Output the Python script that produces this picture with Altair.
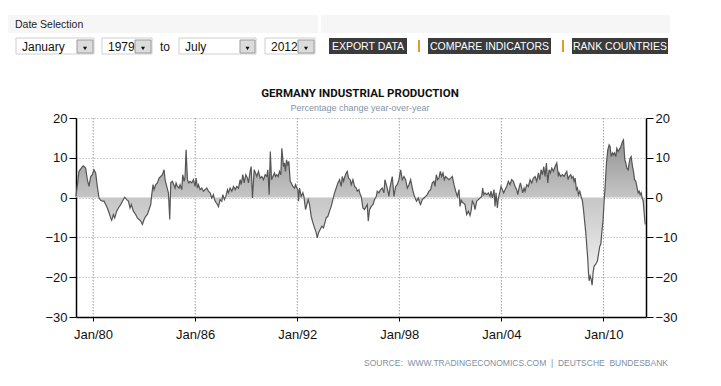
import altair as alt
import pandas as pd

# ---- data: (decimal year, % change y/y) ----
seg_1979_1984 = [
    (1979.0, 0.3), (1979.176, 6.6), (1979.372, 7.8), (1979.431, 8.0), (1979.568, 7.4),
    (1979.666, 4.5), (1979.764, 2.8), (1979.862, 5.3), (1979.960, 5.75), (1980.058, 7.0),
    (1980.156, 6.2), (1980.254, 2.8), (1980.352, -0.1), (1980.450, -0.7), (1980.549, -0.9),
    (1980.647, -0.9), (1980.745, -1.75), (1980.843, -2.6), (1980.941, -3.8), (1981.039, -5.1),
    (1981.098, -5.7), (1981.196, -4.25), (1981.274, -5.1), (1981.392, -3.4), (1981.490, -2.6),
    (1981.627, -1.75), (1981.784, -0.5), (1981.862, 0.1), (1981.980, -0.5), (1982.078, -0.9),
    (1982.176, -2.6), (1982.255, -1.75), (1982.372, -3.4), (1982.509, -4.25), (1982.607, -5.1),
    (1982.706, -5.5), (1982.804, -5.9), (1982.902, -6.75), (1983.000, -5.5), (1983.098, -4.7),
    (1983.196, -4.25), (1983.294, -3.0), (1983.392, -1.75), (1983.451, 0.75), (1983.529, 3.25),
    (1983.588, 2.0), (1983.686, 3.25), (1983.784, 3.7), (1983.882, 4.9), (1983.980, 5.3),
    (1984.078, 5.75), (1984.176, 7.0), (1984.235, 4.5), (1984.333, 2.8), (1984.431, 1.2),
    (1984.510, -5.5), (1984.569, 3.7), (1984.666, 4.1),
]
seg_1984_1990 = [
    (1984.823, 2.4), (1984.882, 3.7), (1984.960, 2.8), (1985.058, 2.4), (1985.117, 3.25),
    (1985.215, 2.0), (1985.274, 5.75), (1985.353, 4.1), (1985.411, 5.3), (1985.470, 12.0),
    (1985.549, 4.5), (1985.627, 3.7), (1985.706, 4.1), (1985.804, 3.7), (1985.902, 4.5),
    (1986.000, 2.8), (1986.058, 4.9), (1986.137, 2.4), (1986.196, 3.25), (1986.294, 2.0),
    (1986.392, 2.4), (1986.490, 1.6), (1986.588, 2.0), (1986.686, 2.4), (1986.784, 1.6),
    (1986.882, 1.2), (1986.980, -0.1), (1987.078, 0.75), (1987.137, -0.5), (1987.235, -1.3),
    (1987.314, -1.75), (1987.372, -2.3), (1987.470, -0.5), (1987.568, -0.9), (1987.627, 0.75),
    (1987.725, -0.5), (1987.804, 0.3), (1987.902, 2.0), (1987.960, 1.2), (1988.058, 2.4),
    (1988.157, 1.6), (1988.255, 2.8), (1988.353, 2.0), (1988.451, 2.8), (1988.549, 2.4),
    (1988.647, 4.5), (1988.706, 3.25), (1988.804, 5.75), (1988.882, 3.7), (1988.980, 5.75),
    (1989.078, 4.9), (1989.137, 3.7), (1989.235, 6.6), (1989.294, 7.8), (1989.372, -0.1),
    (1989.470, 7.0), (1989.549, 6.2), (1989.627, 5.3), (1989.725, 6.6), (1989.823, 4.9),
    (1989.921, 5.3), (1990.019, 4.5), (1990.117, 5.75), (1990.215, 5.3), (1990.274, 7.0),
    (1990.353, 0.75), (1990.420, 11.6),
]
seg_1990_1996 = [
    (1990.490, 4.5), (1990.568, 5.3), (1990.666, 6.2), (1990.725, 5.3), (1990.804, 5.75),
    (1990.882, 5.3), (1990.960, 6.6), (1991.039, 5.75), (1991.098, 12.4), (1991.196, 7.8),
    (1991.255, 8.7), (1991.313, 6.6), (1991.372, 9.5), (1991.451, 8.25), (1991.509, 9.1),
    (1991.588, 4.1), (1991.647, 3.7), (1991.745, 2.8), (1991.843, 2.4), (1991.901, 3.25),
    (1991.980, 2.4), (1992.039, 2.0), (1992.078, -0.9), (1992.137, 2.4), (1992.235, 0.3),
    (1992.333, 1.2), (1992.392, 0.3), (1992.490, -3.0), (1992.568, -1.75), (1992.647, -0.5),
    (1992.725, -1.75), (1992.823, -4.7), (1992.921, -6.3), (1993.019, -7.6), (1993.117, -8.8),
    (1993.176, -10.1), (1993.254, -8.8), (1993.352, -8.0), (1993.450, -7.2), (1993.549, -7.6),
    (1993.627, -6.3), (1993.705, -5.1), (1993.803, -4.7), (1993.901, -3.4), (1994.000, -2.2),
    (1994.098, -0.5), (1994.196, 1.2), (1994.294, 2.4), (1994.392, 3.7), (1994.490, 4.5),
    (1994.588, 2.8), (1994.647, 5.3), (1994.725, 4.1), (1994.803, 5.3), (1994.882, 6.2),
    (1994.941, 6.6), (1995.019, 4.9), (1995.117, 4.5), (1995.176, 3.25), (1995.274, 4.5),
    (1995.372, 2.8), (1995.470, 2.4), (1995.529, 1.6), (1995.627, 2.0), (1995.705, 0.75),
    (1995.764, 0.3), (1995.862, -2.6), (1995.960, -3.0), (1996.058, -2.2),
]
seg_1996_2001 = [
    (1996.118, -1.75), (1996.176, -5.9), (1996.255, -3.0), (1996.353, -2.2), (1996.451, -1.75),
    (1996.549, -0.5), (1996.647, 0.3), (1996.706, 1.6), (1996.804, 1.2), (1996.902, 2.0),
    (1997.000, 2.4), (1997.098, 1.2), (1997.157, 4.5), (1997.235, 3.25), (1997.314, 2.0),
    (1997.392, 0.3), (1997.451, 2.4), (1997.510, 3.7), (1997.588, 5.3), (1997.686, 0.3),
    (1997.784, 2.8), (1997.882, 3.25), (1997.980, 4.5), (1998.079, 7.0), (1998.177, 4.5),
    (1998.275, 5.3), (1998.373, 4.5), (1998.471, 2.4), (1998.569, 3.25), (1998.667, 4.5),
    (1998.765, 2.4), (1998.863, 0.75), (1998.961, -0.5), (1999.020, -0.9), (1999.118, -0.1),
    (1999.196, -1.3), (1999.255, -1.75), (1999.353, -0.5), (1999.451, -0.1), (1999.549, 0.3),
    (1999.647, 0.75), (1999.745, 1.6), (1999.843, 2.0), (1999.941, 3.7), (2000.039, 4.1),
    (2000.098, 2.8), (2000.177, 5.75), (2000.255, 4.5), (2000.333, 4.9), (2000.412, 6.6),
    (2000.490, 5.3), (2000.569, 6.2), (2000.647, 4.5), (2000.725, 5.3), (2000.824, 4.9),
    (2000.922, 4.5), (2001.020, 4.9), (2001.118, 5.3), (2001.216, 3.25), (2001.314, 1.6),
    (2001.412, 0.3), (2001.510, 2.0), (2001.569, -2.2), (2001.647, -0.5), (2001.706, -1.3),
]
seg_2001_2007 = [
    (2001.765, -1.3), (2001.863, -1.75), (2001.961, -4.25), (2002.059, -3.4), (2002.157, -4.5),
    (2002.216, -3.4), (2002.294, -0.9), (2002.392, -1.75), (2002.451, -3.0), (2002.549, -0.9),
    (2002.647, -0.5), (2002.745, -0.1), (2002.843, 0.3), (2002.902, 2.4), (2002.961, 0.75),
    (2003.039, 1.2), (2003.137, 0.75), (2003.235, 1.2), (2003.333, 0.3), (2003.392, 1.6),
    (2003.471, -0.1), (2003.569, 2.0), (2003.628, -2.2), (2003.686, 1.2), (2003.765, -2.6),
    (2003.824, -0.1), (2003.922, 1.6), (2003.981, 2.8), (2004.059, 2.0), (2004.138, 1.2),
    (2004.216, 2.0), (2004.314, 2.8), (2004.412, 4.1), (2004.510, 3.25), (2004.608, 4.5),
    (2004.706, 4.1), (2004.804, 2.8), (2004.902, 2.0), (2004.961, 0.75), (2005.040, 2.4),
    (2005.118, 3.7), (2005.196, 2.4), (2005.255, 1.2), (2005.334, 2.4), (2005.392, 1.6),
    (2005.490, 3.25), (2005.589, 2.8), (2005.687, 4.5), (2005.785, 3.7), (2005.883, 4.9),
    (2005.981, 5.3), (2006.079, 4.1), (2006.177, 6.2), (2006.255, 4.5), (2006.334, 7.0),
    (2006.412, 5.75), (2006.491, 7.8), (2006.569, 5.3), (2006.647, 8.7), (2006.726, 3.7),
    (2006.804, 7.0), (2006.883, 6.2), (2006.961, 7.4), (2007.059, 6.6), (2007.157, 7.8),
    (2007.255, 8.7), (2007.353, 5.3),
]
seg_2007_2012 = [
    (2007.392, 6.2), (2007.490, 5.3), (2007.588, 5.75), (2007.686, 5.3), (2007.784, 6.2),
    (2007.843, 6.6), (2007.922, 4.5), (2007.980, 5.3), (2008.078, 5.75), (2008.137, 4.9),
    (2008.216, 5.3), (2008.275, 4.1), (2008.333, 4.9), (2008.412, 2.0), (2008.471, 2.4),
    (2008.529, 0.75), (2008.608, 1.6), (2008.686, 0.3), (2008.765, -0.9), (2008.824, -3.0),
    (2008.882, -5.5), (2008.961, -8.8), (2009.020, -12.2), (2009.078, -15.5), (2009.118, -18.8),
    (2009.157, -20.9), (2009.216, -19.7), (2009.275, -20.5), (2009.333, -22.0), (2009.392, -18.8),
    (2009.451, -17.2), (2009.549, -16.75), (2009.647, -15.9), (2009.706, -14.25), (2009.784, -12.2),
    (2009.843, -11.75), (2009.902, -8.8), (2009.980, -5.5), (2010.039, -0.9), (2010.098, 2.8),
    (2010.176, 8.7), (2010.255, 12.0), (2010.333, 13.25), (2010.392, 12.8), (2010.451, 10.3),
    (2010.529, 11.2), (2010.588, 10.75), (2010.647, 11.2), (2010.725, 10.3), (2010.784, 12.4),
    (2010.863, 11.6), (2010.922, 12.0), (2011.020, 12.8), (2011.118, 14.1), (2011.176, 14.5),
    (2011.255, 9.5), (2011.314, 8.7), (2011.373, 7.4), (2011.451, 7.0), (2011.510, 8.7),
    (2011.569, 9.9), (2011.628, 10.3), (2011.706, 7.8), (2011.765, 6.6), (2011.824, 4.5),
    (2011.902, 4.1), (2011.961, 2.8), (2012.039, 1.2), (2012.098, 1.6), (2012.157, 0.75),
    (2012.216, 1.2), (2012.275, -0.1), (2012.333, -0.9), (2012.392, -3.8), (2012.451, -6.75),
]

y_ticks = [-30, -20, -10, 0, 10, 20]
x_ticks = [1980, 1986, 1992, 1998, 2004, 2010]
x_domain = [1979.0, 2012.5]
y_domain = [-30, 20]

title_text = "GERMANY INDUSTRIAL PRODUCTION"
subtitle_text = "Percentage change year-over-year"
source_text = "SOURCE:\u00a0 WWW.TRADINGECONOMICS.COM\u00a0 |\u00a0 DEUTSCHE\u00a0 BUNDESBANK"
date_label = "Date Selection"
from_month, from_year = "January", "1979"
to_month, to_year = "July", "2012"
buttons = ["EXPORT DATA", "COMPARE INDICATORS", "RANK COUNTRIES"]

df = pd.DataFrame(
    seg_1979_1984 + seg_1984_1990 + seg_1990_1996 + seg_1996_2001 + seg_2001_2007 + seg_2007_2012,
    columns=["year", "value"],
)

# ---- layout (page pixels) ----
X0, Y0 = 76, 118          # plot-area origin on the page
W, H = 570, 199
FONT = "Liberation Sans"


def px(x):
    return x - X0


def py(y):
    return y - Y0


one = pd.DataFrame({"k": [0]})

xscale = alt.Scale(domain=x_domain, nice=False, zero=False)
yscale = alt.Scale(domain=y_domain, nice=False)

axis_common = dict(
    domainColor="#000", domainWidth=1.5, tickColor="#000", tickWidth=1,
    labelFont=FONT, labelFontSize=13, labelColor="#111", title=None,
)
grid_style = dict(grid=True, gridDash=[1, 2], gridColor="#a9a9a9", gridWidth=1)

x_axis = alt.Axis(
    values=x_ticks, labelExpr="'Jan/' + substring(toString(datum.value), 2, 4)",
    tickSize=4, labelPadding=7, **grid_style, **axis_common)

grad = alt.Gradient(
    gradient="linear",
    stops=[alt.GradientStop(color="#939393", offset=0),
           alt.GradientStop(color="#c6c6c6", offset=0.4),
           alt.GradientStop(color="#f6f6f6", offset=1)],
    x1=1, x2=1, y1=0, y2=1,
)

area = alt.Chart(df).mark_area(color=grad, opacity=1).encode(
    x=alt.X("year:Q", scale=xscale, axis=x_axis),
    y=alt.Y("value:Q", scale=yscale, axis=alt.Axis(
        orient="left", values=y_ticks, tickSize=7, labelPadding=2,
        **grid_style, **axis_common)),
    y2=alt.datum(0),
)

line = alt.Chart(df).mark_line(color="#555555", strokeWidth=1.2).encode(
    x=alt.X("year:Q", scale=xscale, axis=x_axis),
    y=alt.Y("value:Q", scale=yscale, axis=alt.Axis(
        orient="right", values=y_ticks, grid=False, tickSize=7, labelPadding=2, **axis_common)),
)

# vertical dotted grid drawn explicitly at the x tick positions
vgrid = alt.Chart(pd.DataFrame({"year": x_ticks})).mark_rule(
    color="#a9a9a9", strokeDash=[1, 2], strokeWidth=1).encode(
    x=alt.X("year:Q", scale=xscale, axis=x_axis))

layers = [vgrid, area, line]


def rect(x1, x2, y1, y2, fill, stroke=None):
    kw = dict(fill=fill)
    if stroke:
        kw.update(stroke=stroke, strokeWidth=1)
    return alt.Chart(one).mark_rect(**kw).encode(
        x=alt.value(px(x1)), x2=alt.value(px(x2)), y=alt.value(py(y1)), y2=alt.value(py(y2)))


def text(s, x, y, size, color, align="left", weight="normal", font=FONT):
    return alt.Chart(one).mark_text(
        text=s, align=align, baseline="middle", font=font, fontSize=size,
        fontWeight=weight, color=color).encode(x=alt.value(px(x)), y=alt.value(py(y)))


def dropdown(x1, x2, label, bx1):
    return [rect(x1, x2, 38, 54, "#ffffff", "#cfcfcf"),
            text(label, x1 + 6, 46.5, 12, "#111"),
            rect(bx1, x2 - 1, 40, 53, "#dcdcdc", "#9a9a9a"),
            alt.Chart(one).mark_point(shape="triangle-down", filled=True, size=16,
                                      color="#111", opacity=1).encode(
                x=alt.value(px((bx1 + x2 - 1) / 2)), y=alt.value(py(48.5)))]


# header band
layers += [rect(8, 318, 15, 33, "#f6f6f6"), rect(321, 670, 15, 33, "#f6f6f6"),
           text(date_label, 15, 24.5, 10.5, "#222")]
layers += dropdown(16, 94, from_month, 77)
layers += dropdown(102, 152, from_year, 135)
layers += [text("to", 165, 46.5, 12, "#111", align="center")]
layers += dropdown(179, 256, to_month, 240)
layers += dropdown(265, 315, to_year, 298)

for (x1, x2), lab in zip([(329, 407), (428, 551), (572, 668)], buttons):
    layers += [rect(x1, x2, 38, 54, "#3b3b3b"),
               text(lab, (x1 + x2) / 2, 46.5, 10.5, "#ffffff", align="center")]
for sx in [419, 563]:
    layers += [rect(sx - 1, sx + 1, 40, 52, "#e39b2b")]

# titles and source
layers += [text(title_text, 360, 93.5, 11.5, "#111", align="center", weight="bold", font="Roboto"),
           text(subtitle_text, 360, 108, 9, "#8494a4", align="center"),
           text(source_text, 668, 362.5, 8.5, "#7f8fa0", align="right")]

chart = alt.layer(*layers).resolve_axis(y="independent").properties(
    width=W, height=H,
    padding={"left": X0 - 8, "top": Y0 - 8, "right": 60, "bottom": 60},
    autosize=alt.AutoSizeParams(type="none"),
    background="#ffffff",
).configure_view(stroke=None)

chart.save("out.html", embed_options={"renderer": "svg", "actions": False})
